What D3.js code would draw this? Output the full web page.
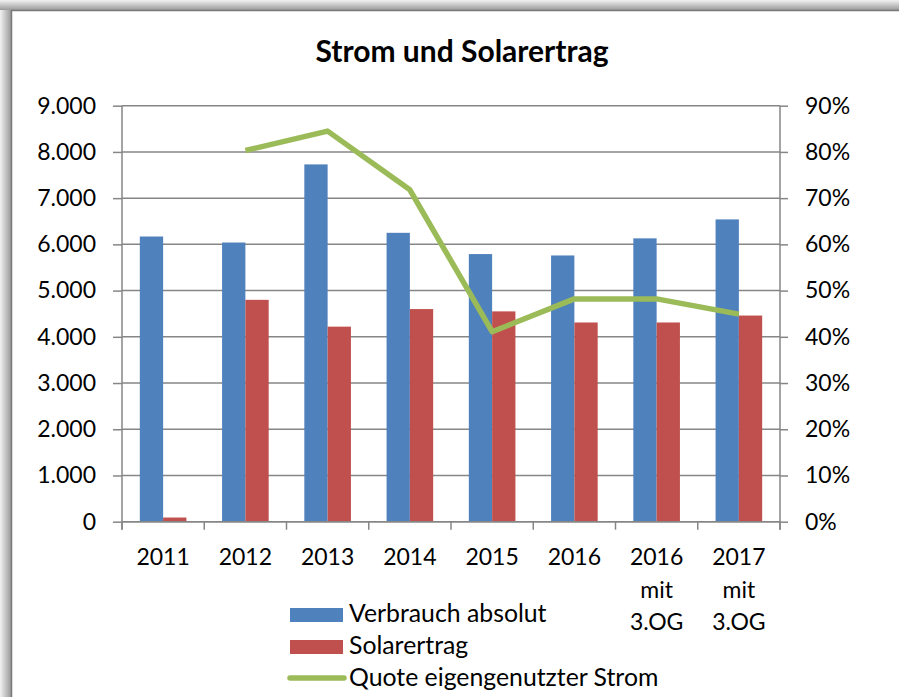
<!DOCTYPE html>
<html>
<head>
<meta charset="utf-8">
<script src="https://cdn.jsdelivr.net/npm/d3@7"></script>
<style>
  html, body { margin: 0; padding: 0; background: #fff; }
  svg { display: block; font-family: Lato, "Liberation Sans", sans-serif; }
</style>
</head>
<body>
<div id="chart"></div>
<script>
// === DATA ===
const categories = ["2011", "2012", "2013", "2014", "2015", "2016", "2016\nmit\n3.OG", "2017\nmit\n3.OG"];
const verbrauch = [6170, 6040, 7730, 6250, 5790, 5760, 6130, 6540];
const solarertrag = [90, 4800, 4220, 4600, 4550, 4310, 4310, 4460];
const quote = [null, 0.803, 0.845, 0.718, 0.411, 0.482, 0.482, 0.449];
const leftTicks = [0, 1000, 2000, 3000, 4000, 5000, 6000, 7000, 8000, 9000];
const rightTicks = [0, 0.1, 0.2, 0.3, 0.4, 0.5, 0.6, 0.7, 0.8, 0.9];
const seriesNames = ["Verbrauch absolut", "Solarertrag", "Quote eigengenutzter Strom"];

const W = 899, H = 697;
const plot = { left: 122, right: 780, top: 105.7, bottom: 521.7 };
const colors = { blue: "#4F81BD", red: "#C0504D", green: "#9BBB59", grid: "#868686" };

const svg = d3.select("#chart").append("svg")
    .attr("width", W)
    .attr("height", H);

// Rahmen mit Schatten
const defs = svg.append("defs");
const gl = defs.append("linearGradient").attr("id", "shadowL").attr("x1", 0).attr("x2", 1).attr("y1", 0).attr("y2", 0);
gl.append("stop").attr("offset", 0).attr("stop-color", "#f2f2f2");
gl.append("stop").attr("offset", 1).attr("stop-color", "#9a9a9a");
const gt = defs.append("linearGradient").attr("id", "shadowT").attr("x1", 0).attr("x2", 0).attr("y1", 0).attr("y2", 1);
gt.append("stop").attr("offset", 0).attr("stop-color", "#f2f2f2");
gt.append("stop").attr("offset", 1).attr("stop-color", "#9a9a9a");

svg.append("rect").attr("width", W).attr("height", H).attr("fill", "#fff");
svg.append("rect").attr("x", 0).attr("y", 0).attr("width", 11).attr("height", H).attr("fill", "url(#shadowL)");
svg.append("rect").attr("x", 0).attr("y", 0).attr("width", W).attr("height", 10).attr("fill", "url(#shadowT)");
svg.append("path")
    .attr("d", `M11.5,${H} V10.5 H${W}`)
    .attr("fill", "none")
    .attr("stroke", "#7a7a7a")
    .attr("stroke-width", 1.5);

// Scales
const x0 = d3.scaleBand().domain(categories).range([plot.left, plot.right]).padding(0);
const x1 = d3.scaleBand().domain(["v", "s"]).range([0, x0.bandwidth()]).paddingInner(0).paddingOuter(0.765);
const yL = d3.scaleLinear().domain([0, 9000]).range([plot.bottom, plot.top]);
const yR = d3.scaleLinear().domain([0, 0.9]).range([plot.bottom, plot.top]);

// Gitterlinien
svg.append("g")
    .selectAll("line")
    .data(leftTicks)
    .join("line")
    .attr("x1", plot.left).attr("x2", plot.right)
    .attr("y1", d => yL(d)).attr("y2", d => yL(d))
    .attr("stroke", colors.grid)
    .attr("stroke-width", 1.5);

// Achsen
const fmtL = d => d === 0 ? "0" : d3.format(",")(d).replace(/,/g, ".");
const axisL = svg.append("g")
    .attr("transform", `translate(${plot.left},0)`)
    .call(d3.axisLeft(yL).tickValues(leftTicks).tickFormat(fmtL).tickSize(9).tickPadding(17));
const axisR = svg.append("g")
    .attr("transform", `translate(${plot.right},0)`)
    .call(d3.axisRight(yR).tickValues(rightTicks).tickFormat(d3.format(".0%")).tickSize(8).tickPadding(17));
[axisL, axisR].forEach(a => {
    a.select(".domain").remove();
    a.selectAll(".tick line").attr("stroke", colors.grid).attr("stroke-width", 1.5);
    a.selectAll(".tick text").attr("font-size", 23).attr("fill", "#000").attr("font-family", "Lato, 'Liberation Sans', sans-serif");
});
svg.append("line")
    .attr("x1", plot.left).attr("x2", plot.left)
    .attr("y1", plot.top).attr("y2", plot.bottom + 8)
    .attr("stroke", colors.grid).attr("stroke-width", 1.5);
svg.append("line")
    .attr("x1", plot.right).attr("x2", plot.right)
    .attr("y1", plot.top).attr("y2", plot.bottom + 8)
    .attr("stroke", colors.grid).attr("stroke-width", 1.5);

// Kategorie-Ticks unten
const boundaries = categories.map(c => x0(c)).concat([plot.right]);
svg.append("g")
    .selectAll("line")
    .data(boundaries)
    .join("line")
    .attr("x1", d => d).attr("x2", d => d)
    .attr("y1", plot.bottom).attr("y2", plot.bottom + 8)
    .attr("stroke", colors.grid).attr("stroke-width", 1.5);

// Balken
const bars = svg.append("g");
bars.selectAll(".bar-v")
    .data(verbrauch)
    .join("rect")
    .attr("class", "bar-v")
    .attr("x", (d, i) => x0(categories[i]) + x1("v"))
    .attr("y", d => yL(d))
    .attr("width", x1.bandwidth())
    .attr("height", d => plot.bottom - yL(d))
    .attr("fill", colors.blue);
bars.selectAll(".bar-s")
    .data(solarertrag)
    .join("rect")
    .attr("class", "bar-s")
    .attr("x", (d, i) => x0(categories[i]) + x1("s"))
    .attr("y", d => yL(d))
    .attr("width", x1.bandwidth())
    .attr("height", d => plot.bottom - yL(d))
    .attr("fill", colors.red);

// Bodenlinie über den Balken
svg.append("line")
    .attr("x1", plot.left).attr("x2", plot.right)
    .attr("y1", plot.bottom).attr("y2", plot.bottom)
    .attr("stroke", colors.grid).attr("stroke-width", 1.5);

// Linie
const line = d3.line()
    .defined(d => d != null)
    .x((d, i) => x0(categories[i]) + x0.bandwidth() / 2)
    .y(d => yR(d));
svg.append("path")
    .datum(quote)
    .attr("d", line)
    .attr("fill", "none")
    .attr("stroke", colors.green)
    .attr("stroke-width", 5.5)
    .attr("stroke-linejoin", "round");

// Kategorie-Beschriftungen
const xLabels = svg.append("g")
    .selectAll("text")
    .data(categories)
    .join("text")
    .attr("x", d => x0(d) + x0.bandwidth() / 2)
    .attr("y", 565)
    .attr("text-anchor", "middle")
    .attr("font-size", 23)
    .attr("fill", "#000");
xLabels.selectAll("tspan")
    .data(d => d.split("\n"))
    .join("tspan")
    .attr("x", function () { return d3.select(this.parentNode).attr("x"); })
    .attr("dy", (d, i) => i === 0 ? 0 : 32.5)
    .text(d => d);

// Titel
svg.append("text")
    .attr("x", 462)
    .attr("y", 62)
    .attr("text-anchor", "middle")
    .attr("font-size", 30)
    .attr("font-weight", "bold")
    .attr("fill", "#000")
    .text("Strom und Solarertrag");

// Legende
const legend = svg.append("g");
const rows = [622, 654, 686];
legend.append("rect").attr("x", 290).attr("y", 608).attr("width", 53).attr("height", 14).attr("fill", colors.blue);
legend.append("rect").attr("x", 290).attr("y", 640).attr("width", 53).attr("height", 14).attr("fill", colors.red);
legend.append("line").attr("x1", 290).attr("x2", 344).attr("y1", 678).attr("y2", 678)
    .attr("stroke", colors.green).attr("stroke-width", 5.5).attr("stroke-linecap", "round");
legend.selectAll("text")
    .data(seriesNames)
    .join("text")
    .attr("x", 349)
    .attr("y", (d, i) => rows[i])
    .attr("font-size", 24.8)
    .attr("fill", "#000")
    .text(d => d);
</script>
</body>
</html>
